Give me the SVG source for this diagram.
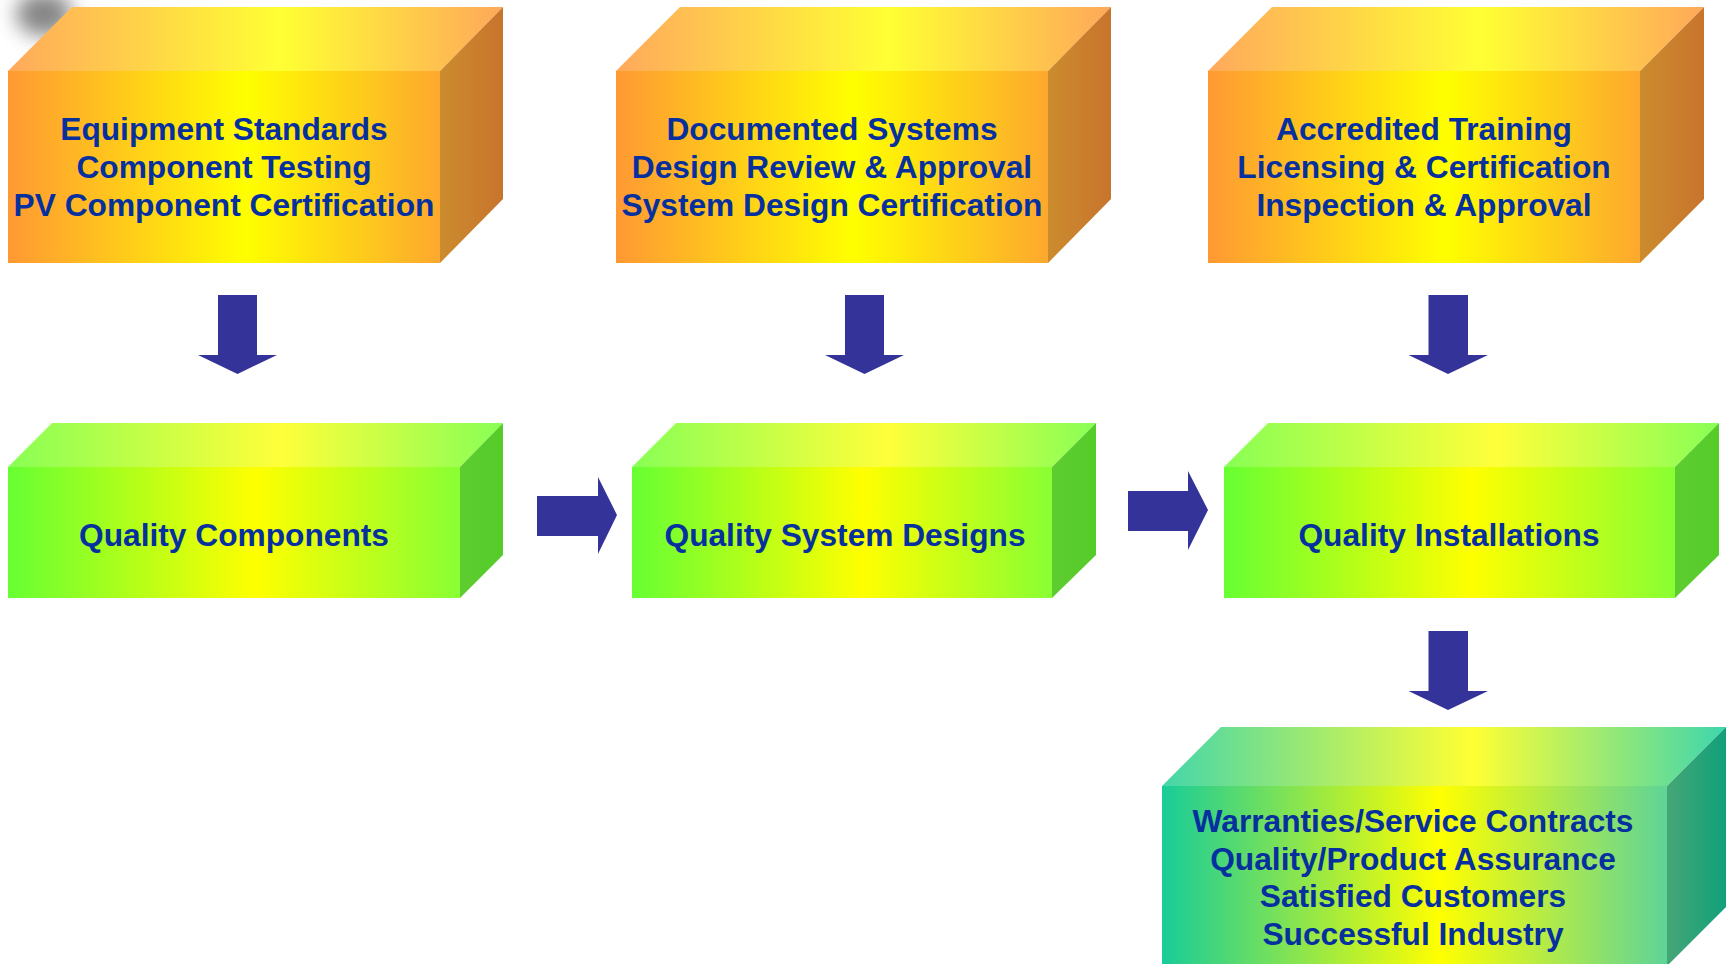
<svg xmlns="http://www.w3.org/2000/svg" width="1727" height="964" viewBox="0 0 1727 964">
  <defs>
    <!-- orange blocks -->
    <linearGradient id="orFront" x1="0" y1="0" x2="1" y2="0">
      <stop offset="0" stop-color="#FF9933"/>
      <stop offset="0.55" stop-color="#FFFF00"/>
      <stop offset="1" stop-color="#FDA82E"/>
    </linearGradient>
    <linearGradient id="orTop" x1="0" y1="0" x2="1" y2="0">
      <stop offset="0" stop-color="#FFA95C"/>
      <stop offset="0.55" stop-color="#FFFF33"/>
      <stop offset="1" stop-color="#FFA85A"/>
    </linearGradient>
    <linearGradient id="orSide" x1="0" y1="0" x2="1" y2="0">
      <stop offset="0" stop-color="#CC8C2E"/>
      <stop offset="1" stop-color="#C8742C"/>
    </linearGradient>
    <!-- green blocks -->
    <linearGradient id="grFront" x1="0" y1="0" x2="1" y2="0">
      <stop offset="0" stop-color="#66FF33"/>
      <stop offset="0.55" stop-color="#FFFF00"/>
      <stop offset="1" stop-color="#88FF33"/>
    </linearGradient>
    <linearGradient id="grTop" x1="0" y1="0" x2="1" y2="0">
      <stop offset="0" stop-color="#88FF55"/>
      <stop offset="0.55" stop-color="#FFFF3A"/>
      <stop offset="1" stop-color="#88FF55"/>
    </linearGradient>
    <linearGradient id="grSide" x1="0" y1="0" x2="1" y2="0">
      <stop offset="0" stop-color="#5ECC30"/>
      <stop offset="1" stop-color="#55CC2A"/>
    </linearGradient>
    <!-- teal block -->
    <linearGradient id="tlFront" x1="0" y1="0" x2="1" y2="0">
      <stop offset="0" stop-color="#18CC99"/>
      <stop offset="0.55" stop-color="#FFFF00"/>
      <stop offset="1" stop-color="#5ED498"/>
    </linearGradient>
    <linearGradient id="tlTop" x1="0" y1="0" x2="1" y2="0">
      <stop offset="0" stop-color="#44D6AA"/>
      <stop offset="0.55" stop-color="#FFFF33"/>
      <stop offset="1" stop-color="#3ED6AE"/>
    </linearGradient>
    <linearGradient id="tlSide" x1="0" y1="0" x2="1" y2="0">
      <stop offset="0" stop-color="#46A676"/>
      <stop offset="1" stop-color="#10A07A"/>
    </linearGradient>
    <filter id="smudge" x="-1" y="-1" width="3" height="3">
      <feGaussianBlur stdDeviation="10"/>
    </filter>
  </defs>
  <style>
    .lbl { font-family: "Liberation Sans", Arial, Helvetica, sans-serif; font-weight: bold; font-size: 31.7px; fill: #06309E; text-anchor: middle; }
    .arrow { fill: #333399; }
  </style>

  <rect width="1727" height="964" fill="#FFFFFF"/>

  <!-- soft grey blur in the upper left corner -->
  <ellipse cx="44" cy="14" rx="28" ry="22" fill="#666" opacity="0.8" filter="url(#smudge)"/>

  <!-- top row: orange blocks -->
  <g id="equipment">
    <polygon points="8,71 72,7 503,7 440,71" fill="url(#orTop)"/>
    <polygon points="440,71 503,7 503,199 440,263" fill="url(#orSide)"/>
    <rect x="8" y="71" width="432" height="192" fill="url(#orFront)"/>
    <text class="lbl" x="224" y="140">Equipment Standards</text>
    <text class="lbl" x="224" y="178">Component Testing</text>
    <text class="lbl" x="224" y="216">PV Component Certification</text>
  </g>

  <g id="documented">
    <polygon points="616,71 680,7 1111,7 1048,71" fill="url(#orTop)"/>
    <polygon points="1048,71 1111,7 1111,199 1048,263" fill="url(#orSide)"/>
    <rect x="616" y="71" width="432" height="192" fill="url(#orFront)"/>
    <text class="lbl" x="832" y="140">Documented Systems</text>
    <text class="lbl" x="832" y="178">Design Review &amp; Approval</text>
    <text class="lbl" x="832" y="216">System Design Certification</text>
  </g>

  <g id="accredited">
    <polygon points="1208,71 1272,7 1704,7 1640,71" fill="url(#orTop)"/>
    <polygon points="1640,71 1704,7 1704,199 1640,263" fill="url(#orSide)"/>
    <rect x="1208" y="71" width="432" height="192" fill="url(#orFront)"/>
    <text class="lbl" x="1424" y="140">Accredited Training</text>
    <text class="lbl" x="1424" y="178">Licensing &amp; Certification</text>
    <text class="lbl" x="1424" y="216">Inspection &amp; Approval</text>
  </g>

  <!-- middle row: green blocks -->
  <g id="quality-components">
    <polygon points="8,467 52,423 503,423 460,467" fill="url(#grTop)"/>
    <polygon points="460,467 503,423 503,555 460,598" fill="url(#grSide)"/>
    <rect x="8" y="467" width="452" height="131" fill="url(#grFront)"/>
    <text class="lbl" x="234" y="545.5">Quality Components</text>
  </g>

  <g id="quality-designs">
    <polygon points="632,467 676,423 1096,423 1052,467" fill="url(#grTop)"/>
    <polygon points="1052,467 1096,423 1096,555 1052,598" fill="url(#grSide)"/>
    <rect x="632" y="467" width="420" height="131" fill="url(#grFront)"/>
    <text class="lbl" x="845" y="545.5">Quality System Designs</text>
  </g>

  <g id="quality-installations">
    <polygon points="1224,467 1268,423 1719,423 1675,467" fill="url(#grTop)"/>
    <polygon points="1675,467 1719,423 1719,555 1675,598" fill="url(#grSide)"/>
    <rect x="1224" y="467" width="451" height="131" fill="url(#grFront)"/>
    <text class="lbl" x="1449" y="545.5">Quality Installations</text>
  </g>

  <!-- bottom block -->
  <g id="outcomes">
    <polygon points="1162,786 1221,727 1726,727 1667,786" fill="url(#tlTop)"/>
    <polygon points="1667,786 1726,727 1726,907 1667,966" fill="url(#tlSide)"/>
    <rect x="1162" y="786" width="505" height="180" fill="url(#tlFront)"/>
    <text class="lbl" x="1413" y="832">Warranties/Service Contracts</text>
    <text class="lbl" x="1413" y="869.5">Quality/Product Assurance</text>
    <text class="lbl" x="1413" y="907">Satisfied Customers</text>
    <text class="lbl" x="1413" y="944.5">Successful Industry</text>
  </g>

  <!-- connectors: block arrows -->
  <g id="connectors">
    <polygon class="arrow" points="218,295 257,295 257,355 277,355 237.5,374 198,355 218,355"/>
    <polygon class="arrow" points="845,295 884,295 884,355 904,355 864.5,374 825,355 845,355"/>
    <polygon class="arrow" points="1428.5,295 1468,295 1468,355 1488,355 1448,374 1408.5,355 1428.5,355"/>
    <polygon class="arrow" points="1428.5,631 1468,631 1468,691 1488,691 1448,710 1408.5,691 1428.5,691"/>
    <polygon class="arrow" points="537,496 598,496 598,477 617,515 598,554 598,536 537,536"/>
    <polygon class="arrow" points="1128,491 1188,491 1188,471 1208,510 1188,550 1188,531 1128,531"/>
  </g>
</svg>
